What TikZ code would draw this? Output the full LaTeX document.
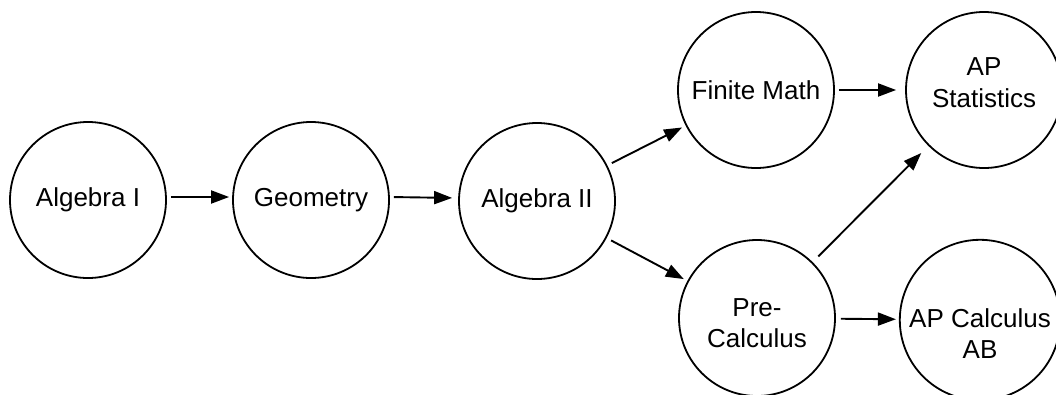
\documentclass[tikz,border=0pt]{standalone}
\usepackage{fontspec}
\setmainfont{Liberation Sans}
\usetikzlibrary{arrows.meta}
\begin{document}
\begin{tikzpicture}[x=1pt,y=-1pt,
  course/.style={circle,draw,line width=1.8pt,minimum size=156pt,inner sep=0pt,align=center,
    font=\fontsize{26pt}{31pt}\selectfont},
  link/.style={line width=1.9pt,-{Triangle[length=18pt,width=13pt]}}]
\useasboundingbox (0,0) rectangle (1056,394);
\node[course] (alg1) at (88,200) {Algebra I};
\node[course] (geo) at (311,200) {Geometry};
\node[course] (alg2) at (537,201) {Algebra II};
\node[course] (fin) at (756,90) {Finite Math};
\node[course] (stat) at (984,90) {AP\\[1pt]Statistics\\[-16pt]\mbox{}};
\node[course] (pre) at (757,318) {\mbox{}\\[-3pt]Pre-\\Calculus};
\node[course] (calc) at (980,320) {\mbox{}\\[14pt]AP Calculus\\AB};
\draw[link,shorten <=4pt,shorten >=3pt] ([yshift=3pt]alg1.east) -- ([yshift=3pt]geo.west);
\draw[link,shorten <=4pt,shorten >=6pt] ([yshift=3pt]geo.east) -- ([yshift=3pt]alg2.west);
\draw[link,shorten <=5pt,shorten >=4pt] (alg2) -- (fin);
\draw[link,shorten <=5pt,shorten >=4pt] (alg2) -- (pre);
\draw[link,shorten <=4pt,shorten >=9pt] (fin) -- (stat);
\draw[link,shorten <=8pt,shorten >=10pt] (pre) -- (stat);
\draw[link,shorten <=5pt,shorten >=3pt] (pre) -- (calc);
\end{tikzpicture}
\end{document}
